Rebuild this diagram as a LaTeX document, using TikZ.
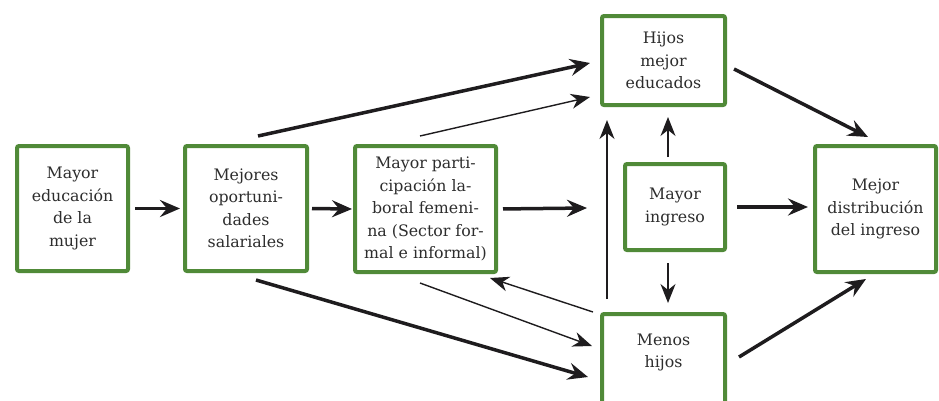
\documentclass[tikz,border=0pt]{standalone}
\usepackage{fontspec}
\setmainfont{DejaVu Serif}
\usetikzlibrary{arrows.meta,calc}
\definecolor{boxgreen}{RGB}{80,138,56}
\definecolor{txt}{RGB}{45,45,45}
\definecolor{arr}{RGB}{30,28,30}
\begin{document}
\begin{tikzpicture}[x=1pt,y=-1pt,
  box/.style={draw=boxgreen,line width=4pt,rounded corners=2pt,fill=white,
    align=center,text=txt,font=\fontsize{15.8}{22.5}\selectfont,inner sep=0pt},
  bigarrow/.style={draw=arr,line width=3.5pt,-{Stealth[length=20pt,width=17pt,inset=7pt]}},
  smallarrow/.style={draw=arr,line width=1.4pt,-{Stealth[length=19pt,width=15pt,inset=6pt]}}]
\clip (0,0) rectangle (939,400);

\node[box,minimum width=111pt,minimum height=125pt] (b1) at (72.5,208.5) {Mayor\\educación\\de la\\mujer};
\node[box,minimum width=122pt,minimum height=125pt] (b2) at (246,208.5) {Mejores\\oportuni-\\dades\\salariales};
\node[box,minimum width=141pt,minimum height=126pt] (b3) at (425.5,209) {Mayor parti-\\cipación la-\\boral femeni-\\na (Sector for-\\mal e informal)};
\node[box,minimum width=123pt,minimum height=89pt] (hijos) at (663.5,60.5) {Hijos\\mejor\\educados};
\node[box,minimum width=100pt,minimum height=86pt] (ingreso) at (675,207) {Mayor\\ingreso};
\node[box,minimum width=123pt,minimum height=90pt] (menos) at (663.5,359) {Menos\\hijos\\[-13pt]\strut};
\node[box,minimum width=121pt,minimum height=126pt] (dist) at (875.5,209) {Mejor\\distribución\\del ingreso};
\coordinate (f3) at (587,208);

% horizontal arrows
\draw[bigarrow,shorten <=5pt,shorten >=3pt] (b1.east) -- (b2.west);
\draw[bigarrow,shorten <=3pt,shorten >=1pt] (b2.east) -- (b3.west);
\draw[bigarrow,shorten <=5pt] (b3.east) -- (f3);
\draw[bigarrow,shorten <=10pt,shorten >=5pt] (ingreso.east) -- (ingreso.east -| dist.west);

% diagonal arrows from left boxes
\draw[bigarrow] ($(b2.north)+(12,-8)$) -- ($(hijos.west)+(-10,2.5)$);
\draw[smallarrow] ($(b3.north)+(-5.5,-8)$) -- ($(hijos.south west)+(-10,-10)$);
\draw[bigarrow] ($(b2.south)+(10,7)$) -- ($(menos.west)+(-12,18)$);
\draw[smallarrow] ($(b3.south)+(-5.5,9)$) -- ($(menos.west)+(-8,-13)$);
\draw[smallarrow] ($(menos.north west)+(-7,0)$) -- ($(b3.south east)+(-8,4)$);

% vertical arrows
\draw[smallarrow] ($(menos.north west)+(7,-13)$) -- ($(hijos.south west)+(7,13)$);
\draw[smallarrow] ($(ingreso.north)+(-7,-5)$) -- ($(hijos.south)+(4.5,10)$);
\draw[smallarrow] ($(ingreso.south)+(-7,11)$) -- ($(menos.north)+(4.5,-9)$);

% arrows to the right box
\draw[bigarrow] ($(hijos.east)+(7,8.5)$) -- ($(dist.north)+(-7.5,-7)$);
\draw[bigarrow] ($(menos.east)+(12,-2)$) -- ($(dist.south)+(-9.5,5)$);
\end{tikzpicture}
\end{document}
